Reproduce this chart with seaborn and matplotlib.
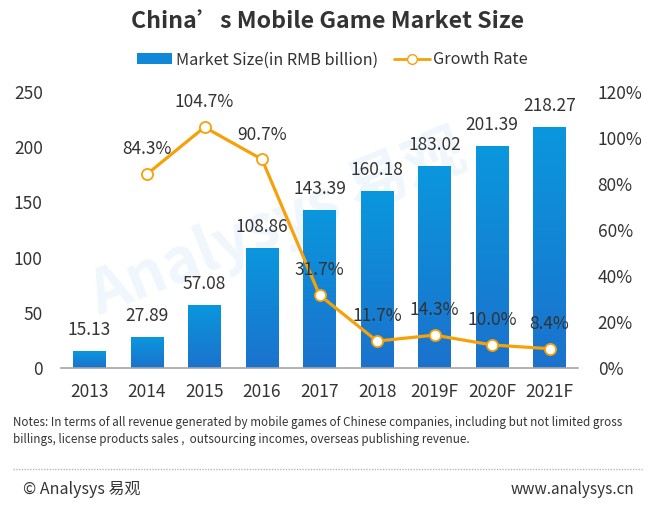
import numpy as np
import pandas as pd
import seaborn as sns
import matplotlib.pyplot as plt
from matplotlib.lines import Line2D
from matplotlib.patches import Patch
from matplotlib.colors import LinearSegmentedColormap

# DATA

years = ["2013", "2014", "2015", "2016", "2017", "2018", "2019F", "2020F", "2021F"]
market_size = [15.13, 27.89, 57.08, 108.86, 143.39, 160.18, 183.02, 201.39, 218.27]
growth_rate = [np.nan, 84.3, 104.7, 90.7, 31.7, 11.7, 14.3, 10.0, 8.4]

df = pd.DataFrame({"year": years, "size": market_size, "growth": growth_rate})
df["pos"] = range(len(df))

sns.set_theme(style="white")
plt.rcParams["font.family"] = ["Noto Sans CJK SC", "DejaVu Sans"]

text_col = "#333333"
orange = "#F7A10A"

fig = plt.figure(figsize=(6.5, 5.08), dpi=100)
ax = fig.add_axes([0.0935, 0.2756, 0.7962, 0.5433])

# faint watermark, behind everything in the axes
ax.text(0.42, 0.52, "Analysys 易观", transform=ax.transAxes, fontsize=44,
        color="#F0F7FC", rotation=22, ha="center", va="center", zorder=0,
        fontweight="bold")

# bars
sns.barplot(data=df, x="year", y="size", color="#1187D8", width=0.57,
            saturation=1, ax=ax)

# gradient fill for bars
cmap = LinearSegmentedColormap.from_list("bar", ["#1B72CD", "#0A97DD"])
grad = np.linspace(0, 1, 256).reshape(-1, 1)
for p in ax.patches:
    x0, y0 = p.get_x(), p.get_y()
    w, h = p.get_width(), p.get_height()
    im = ax.imshow(grad, extent=[x0, x0 + w, y0, y0 + h], origin="lower",
                   aspect="auto", cmap=cmap, zorder=2)
    im.set_clip_path(p)
    p.set_alpha(0)
ax.set_xlim(-0.5, len(years) - 0.5)
ax.set_ylim(0, 250)

# bar labels
for i, v in enumerate(market_size):
    ax.text(i, v + 11, "{:.2f}".format(v), ha="center", va="bottom",
            fontsize=12.5, color=text_col, zorder=5)

ax.set_yticks(range(0, 251, 50))
ax.set_xlabel("")
ax.set_ylabel("")
ax.tick_params(axis="both", length=0, labelsize=12.5, colors=text_col)
ax.tick_params(axis="x", pad=11)
ax.tick_params(axis="y", pad=13)
for s in ["top", "right", "left"]:
    ax.spines[s].set_visible(False)
ax.spines["bottom"].set_color("#A6A6A6")
ax.spines["bottom"].set_linewidth(1.2)

# growth line on secondary axis
ax2 = ax.twinx()
gdf = df.dropna()
sns.lineplot(data=gdf, x="pos", y="growth", color=orange, linewidth=2.3,
             marker="o", markersize=8, markerfacecolor="white",
             markeredgecolor=orange, markeredgewidth=1.3, ax=ax2, zorder=4)
for _, r in gdf.iterrows():
    ax2.text(r["pos"], r["growth"] + 10.8, "{:.1f}%".format(r["growth"]),
             ha="center", va="center", fontsize=12.5, color=text_col, zorder=6)
ax2.set_ylim(0, 120)
ax2.set_xlim(-0.5, len(years) - 0.5)
ax2.set_yticks(range(0, 121, 20))
ax2.set_yticklabels(["{}%".format(t) for t in range(0, 121, 20)])
ax2.set_xlabel("")
ax2.set_ylabel("")
ax2.tick_params(axis="y", length=0, labelsize=12.5, colors=text_col, pad=14)
for s in ["top", "right", "left", "bottom"]:
    ax2.spines[s].set_visible(False)

# title and legend
fig.text(0.504, 0.957, "China’s Mobile Game Market Size", ha="center", va="center",
         fontsize=16.7, fontweight="bold", color=text_col)
handles = [
    Patch(facecolor="#1187D8", edgecolor="none"),
    Line2D([0], [0], color=orange, linewidth=2, marker="o", markersize=7,
           markerfacecolor="white", markeredgecolor=orange),
]
fig.legend(handles, ["Market Size(in RMB billion)", "Growth Rate"],
           loc="center", bbox_to_anchor=(0.511, 0.882), ncol=2, frameon=False,
           fontsize=11.7, handlelength=2.2, handletextpad=0.2, columnspacing=1.0,
           labelcolor=text_col)

# notes and footer
fig.text(0.02, 0.169,
         "Notes: In terms of all revenue generated by mobile games of Chinese companies, including but not limited gross",
         fontsize=8.4, color=text_col, va="center")
fig.text(0.02, 0.135,
         "billings, license products sales ,  outsourcing incomes, overseas publishing revenue.",
         fontsize=8.4, color=text_col, va="center")
fig.add_artist(Line2D([0.02, 0.988], [0.077, 0.077], color="#B8B8B8",
                      linewidth=1, linestyle=(0, (1, 1))))
fig.text(0.035, 0.037, "© Analysys 易观", fontsize=11.5, color=text_col, va="center")
fig.text(0.975, 0.037, "www.analysys.cn", fontsize=11, color=text_col,
         va="center", ha="right")

fig.savefig("out.png", dpi=100)
